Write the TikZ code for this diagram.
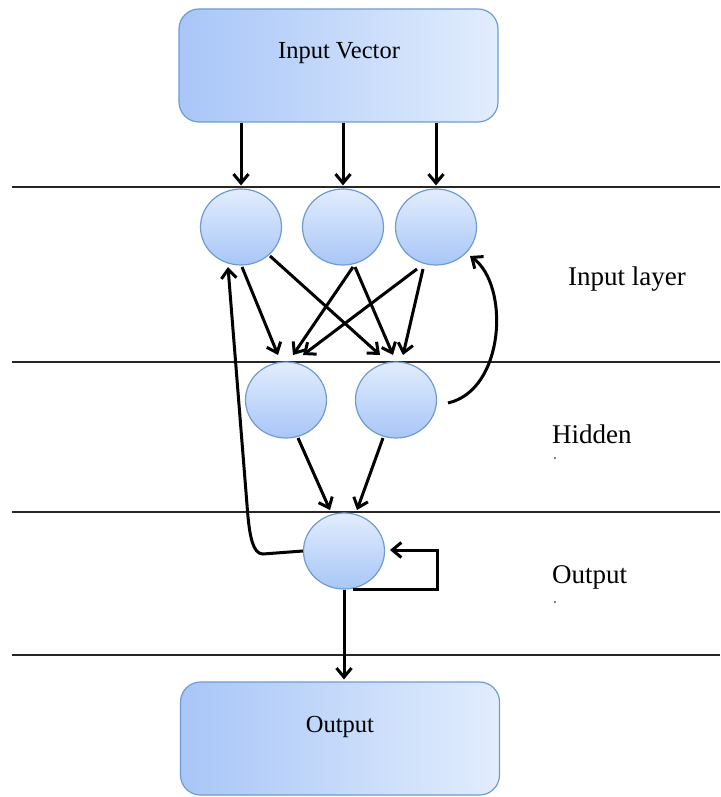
\documentclass[tikz,border=0pt]{standalone}
\usepackage{fontspec}
\setmainfont{Liberation Serif}
\usetikzlibrary{arrows.meta,shapes.geometric,calc}
\definecolor{cdark}{HTML}{A8C6F7}
\definecolor{clight}{HTML}{E2EDFD}
\definecolor{cborder}{HTML}{6F9BD2}
\begin{document}
\begin{tikzpicture}[x=1pt,y=-1pt,
  neuron/.style={ellipse, draw=cborder, line width=1.2pt, top color=clight, bottom color=cdark,
    minimum width=81pt, minimum height=76pt, inner sep=0pt},
  vecbox/.style={rectangle, rounded corners=20pt, draw=cborder, line width=1.2pt,
    left color=cdark, right color=clight, minimum width=319pt, minimum height=113pt},
  conn/.style={line width=3pt, -{Straight Barb[length=9pt,width=15pt]}},
  sep/.style={line width=2pt, draw=black!85},
  boxtxt/.style={font=\fontsize{24.5}{29}\selectfont, anchor=base, inner sep=0pt},
  lbl/.style={font=\fontsize{27}{32}\selectfont, anchor=base west, inner sep=0pt}]
\useasboundingbox (0,0) rectangle (720,797);
% layer separators
\draw[sep] (12,187) -- (720,187);
\draw[sep] (12,362) -- (720,362);
\draw[sep] (12,512) -- (720,512);
\draw[sep] (12,655) -- (720,655);
% boxes
\node[vecbox] (inv) at (338.5,65.5) {};
\node[boxtxt] (tinv) at (339,59) {Input Vector};
\node[vecbox] (outb) at (340,738.5) {};
\node[boxtxt] (tout) at (340,732) {Output};
% neurons
\node[neuron] (i1) at (241,227) {};
\node[neuron] (i2) at (343,227) {};
\node[neuron] (i3) at (436,227) {};
\node[neuron] (h1) at (286,400) {};
\node[neuron] (h2) at (396,400) {};
\node[neuron] (o) at (344,551) {};
% labels
\node[lbl] (lin) at (568,285) {Input layer};
\node[lbl] (lhid) at (552,443) {Hidden};
\node[lbl] (lout) at (552,583) {Output};
\fill (555,458) circle (0.9);
\fill (555,602) circle (0.9);
% input vector to input layer
\draw[conn] (inv.south -| i1) -- ($(i1.north)+(0,-3)$);
\draw[conn] (inv.south -| i2) -- ($(i2.north)+(0,-3)$);
\draw[conn] (inv.south -| i3) -- ($(i3.north)+(0,-3)$);
% input to hidden
\draw[conn] ($(i1)+(1,40)$) -- ($(h1)+(-8,-45)$);
\draw[conn] ($(i1)+(29,29)$) -- ($(h2)+(-16,-45)$);
\draw[conn] ($(i2)+(10,40)$) -- ($(h1)+(7,-45)$);
\draw[conn] ($(i2)+(12,40)$) -- ($(h2)+(-3,-45)$);
\draw[conn] ($(i3)+(-19,42)$) -- ($(h1)+(17,-45)$);
\draw[conn] ($(i3)+(-13,42)$) -- ($(h2)+(7,-45)$);
% hidden to output
\draw[conn] ($(h1)+(12,38)$) -- ($(o)+(-14,-41)$);
\draw[conn] ($(h2)+(-13,38)$) -- ($(o)+(13,-41)$);
% output to output box
\draw[conn] (o.south) -- ($(o.south |- outb.north)+(0,-2)$);
% feedback output -> input 1
\draw[conn] (o.west) -- ($(o.west)+(-40,3)$) .. controls ($(o.west)+(-50,3)$) and ($(o.west)+(-53,-15)$) .. ($(o.west)+(-55,-35)$) -- ($(i1)+(-13,40)$);
% feedback hidden 2 -> input 3
\draw[conn] ($(h2)+(52,3)$) .. controls ($(h2)+(109,-10)$) and ($(i3)+(74,58)$) .. ($(i3)+(34,29)$);
% self loop
\draw[conn] ($(o)+(9,38)$) -- ($(o)+(93,38)$) -- ($(o)+(93,-1)$) -- ($(o)+(46,-1)$);
\end{tikzpicture}
\end{document}
